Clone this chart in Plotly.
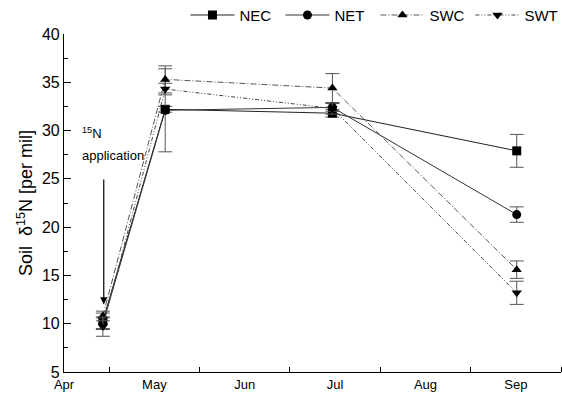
import plotly.graph_objects as go

months = ["Apr", "May", "Jun", "Jul", "Aug", "Sep"]
month_pos = [0, 1, 2, 3, 4, 5]
sample_pos = [0.43, 1.12, 2.97, 5.01]

series = ["NEC", "NET", "SWC", "SWT"]
nec = [10.3, 32.2, 31.8, 27.9]
net = [10.0, 32.1, 32.4, 21.3]
swc = [10.8, 35.3, 34.4, 15.6]
swt = [9.7, 34.3, 32.3, 13.2]

nec_err = [0.8, 0.3, 0.4, 1.7]
net_err = [0.6, 4.3, 0.4, 0.8]
swc_err = [0.5, 1.4, 1.5, 0.9]
swt_err = [1.0, 0.6, 0.6, 1.2]

values = [nec, net, swc, swt]
errors = [nec_err, net_err, swc_err, swt_err]
symbols = ["square", "circle", "triangle-up", "triangle-down"]
dashes = ["solid", "solid", "6px,2px,1px,2px", "4px,2px,1px,2px,1px,2px"]
line_colors = ["#222222", "#333333", "#555555", "#444444"]

fig = go.Figure()
for name, y, e, sym, d, lc in zip(series, values, errors, symbols, dashes, line_colors):
    fig.add_trace(go.Scatter(
        x=sample_pos, y=y, name=name, mode="lines+markers",
        line=dict(color=lc, width=1, dash=d),
        marker=dict(symbol=sym, size=9, color="black"),
        error_y=dict(type="data", array=e, visible=True, color="#555555",
                     thickness=1, width=7),
    ))

fig.add_annotation(x=sample_pos[0] + 0.01, y=12.0, ax=sample_pos[0] + 0.01, ay=25.1,
                   xref="x", yref="y", axref="x", ayref="y",
                   showarrow=True, arrowhead=2, arrowsize=1.2, arrowwidth=1.2,
                   arrowcolor="black", text="")
fig.add_annotation(x=0.31, y=29.7, xref="x", yref="y", showarrow=False,
                   text="<sup>15</sup>N", font=dict(size=13, color="black"))
fig.add_annotation(x=0.54, y=27.4, xref="x", yref="y", showarrow=False,
                   text="application", font=dict(size=13, color="black"))

fig.update_layout(
    width=562, height=401,
    margin=dict(l=64, r=1, t=34, b=29, autoexpand=False),
    paper_bgcolor="white", plot_bgcolor="white",
    font=dict(family="Liberation Sans, Arial, sans-serif", color="black", size=14),
    showlegend=True,
    legend=dict(orientation="h", x=0.33, y=0.962, xref="container", yref="container",
                yanchor="middle", xanchor="left", itemwidth=44,
                entrywidth=36, entrywidthmode="pixels",
                font=dict(size=15), bgcolor="rgba(0,0,0,0)",
                tracegroupgap=0),
)
fig.update_xaxes(
    range=[0, 5.5], tickvals=month_pos, ticktext=months, ticks="",
    showline=True, linecolor="black", linewidth=1.2, showgrid=False, zeroline=False,
    tickfont=dict(size=13), automargin=False,
    minor=dict(tickmode="linear", tick0=0.5, dtick=1, ticks="inside", ticklen=5,
               tickcolor="black", showgrid=False),
)
fig.update_yaxes(
    range=[5, 40], dtick=5, ticks="inside", ticklen=7, tickcolor="black",
    showline=True, linecolor="black", linewidth=1.2, showgrid=False, zeroline=False,
    tickfont=dict(size=16), automargin=False,
    minor=dict(dtick=2.5, ticks="inside", ticklen=4, tickcolor="black", showgrid=False),
    title=dict(text="Soil  δ<sup>15</sup>N [per mil]", font=dict(size=18), standoff=4),
)

fig.write_html("out.html", config={"displayModeBar": False},
               post_script="document.body.style.margin='0px';document.body.style.padding='0px';")
